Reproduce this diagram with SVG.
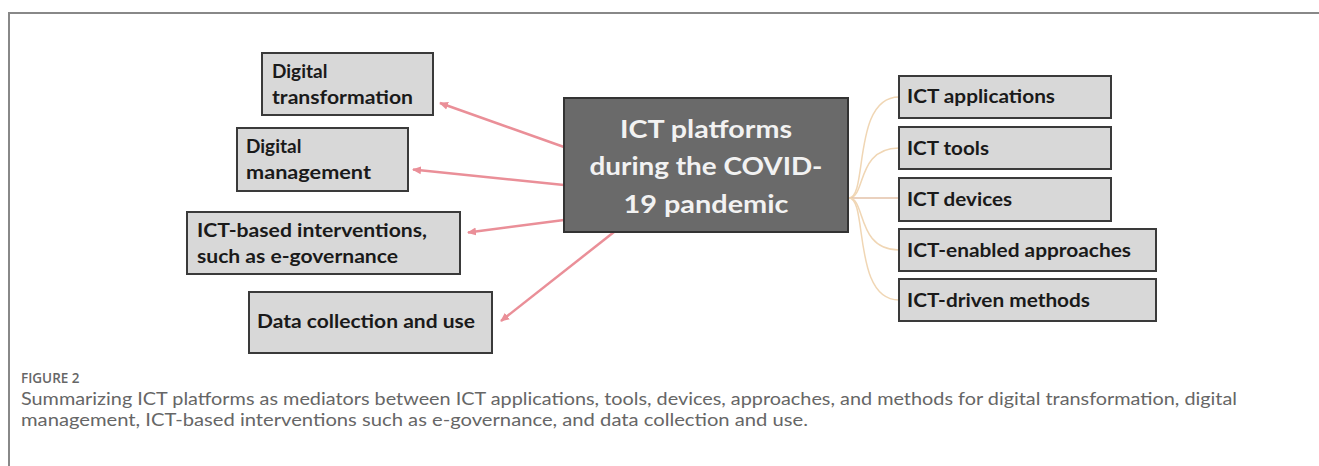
<svg xmlns="http://www.w3.org/2000/svg" width="1319" height="466" viewBox="0 0 1319 466">
<defs>
<style>
.box{fill:#d8d8d8;stroke:#3a3a3a;stroke-width:2}
.hub{fill:#6a6a6a;stroke:#333;stroke-width:2}
.t{font-family:Lato,"Carlito","Liberation Sans",sans-serif;font-weight:700;fill:#1a1a1a;font-size:19px}
.ht{font-family:Lato,"Carlito","Liberation Sans",sans-serif;font-weight:700;fill:#f2f2f2;font-size:24.5px;text-anchor:middle}
.arr{stroke:#ea8f98;stroke-width:2.5;fill:none;marker-end:url(#ah)}
.cur{stroke:#f0d6b4;stroke-width:1.5;fill:none}
.cap{font-family:Lato,"Open Sans","Liberation Sans",sans-serif;fill:#666;font-size:16.5px;font-weight:400}
.fig{font-family:"Open Sans",Lato,"Liberation Sans",sans-serif;fill:#666;font-size:13.5px;font-weight:600}
</style>
<marker id="ah" markerWidth="10" markerHeight="10" refX="8" refY="5" orient="auto" markerUnits="userSpaceOnUse">
<path d="M0,1 L9,5 L0,9 Z" fill="#ea8f98"/>
</marker>
</defs>
<rect width="1319" height="466" fill="#fff"/>
<path d="M9,467 V13 H1320" fill="none" stroke="#888" stroke-width="2"/>

<g id="connectors">
<line class="arr" x1="564" y1="147" x2="440" y2="103"/>
<line class="arr" x1="564" y1="185" x2="413" y2="169.5"/>
<line class="arr" x1="564" y1="220" x2="468" y2="232.5"/>
<line class="arr" x1="614" y1="232" x2="501" y2="321"/>
<path class="cur" d="M849,198 C868,198 852,97 899,97"/>
<path class="cur" d="M849,198 C866,198 856,148 899,148"/>
<path d="M849,198 H899" stroke="#e3c2a8" stroke-width="1.5"/>
<path class="cur" d="M849,198 C866,198 856,250 899,250"/>
<path class="cur" d="M849,198 C868,198 852,300 899,300"/>
</g>

<g id="hub">
<rect class="hub" x="564" y="98" width="284" height="134"/>
<text class="ht" x="706" y="138" textLength="172" lengthAdjust="spacingAndGlyphs">ICT platforms</text>
<text class="ht" x="706" y="175" textLength="233" lengthAdjust="spacingAndGlyphs">during the COVID-</text>
<text class="ht" x="706" y="213" textLength="165" lengthAdjust="spacingAndGlyphs">19 pandemic</text>
</g>

<g id="n-transformation">
<rect class="box" x="262" y="53" width="171" height="62"/>
<text class="t" x="272" y="78">Digital</text>
<text class="t" x="272" y="104" textLength="141" lengthAdjust="spacingAndGlyphs">transformation</text>
</g>
<g id="n-management">
<rect class="box" x="237" y="128" width="171" height="63"/>
<text class="t" x="246" y="153">Digital</text>
<text class="t" x="246" y="179" textLength="125" lengthAdjust="spacingAndGlyphs">management</text>
</g>
<g id="n-interventions">
<rect class="box" x="187" y="212" width="273" height="62"/>
<text class="t" x="197" y="237" textLength="230" lengthAdjust="spacingAndGlyphs">ICT-based interventions,</text>
<text class="t" x="197" y="263" textLength="201" lengthAdjust="spacingAndGlyphs">such as e-governance</text>
</g>
<g id="n-data">
<rect class="box" x="249" y="292" width="243" height="61"/>
<text class="t" x="257" y="328" textLength="218" lengthAdjust="spacingAndGlyphs">Data collection and use</text>
</g>

<g id="n-applications">
<rect class="box" x="899" y="76" width="212" height="42"/>
<text class="t" x="907" y="103" textLength="148" lengthAdjust="spacingAndGlyphs">ICT applications</text>
</g>
<g id="n-tools">
<rect class="box" x="899" y="127" width="212" height="42"/>
<text class="t" x="907" y="155" textLength="82" lengthAdjust="spacingAndGlyphs">ICT tools</text>
</g>
<g id="n-devices">
<rect class="box" x="899" y="178" width="212" height="43"/>
<text class="t" x="907" y="206" textLength="105" lengthAdjust="spacingAndGlyphs">ICT devices</text>
</g>
<g id="n-approaches">
<rect class="box" x="899" y="229" width="257" height="42"/>
<text class="t" x="907" y="257" textLength="224" lengthAdjust="spacingAndGlyphs">ICT-enabled approaches</text>
</g>
<g id="n-methods">
<rect class="box" x="899" y="279" width="257" height="42"/>
<text class="t" x="907" y="307" textLength="183" lengthAdjust="spacingAndGlyphs">ICT-driven methods</text>
</g>

<g id="caption">
<text class="fig" x="21" y="383">FIGURE 2</text>
<text class="cap" x="21" y="405" textLength="1216" lengthAdjust="spacingAndGlyphs">Summarizing ICT platforms as mediators between ICT applications, tools, devices, approaches, and methods for digital transformation, digital</text>
<text class="cap" x="21" y="426" textLength="787" lengthAdjust="spacingAndGlyphs">management, ICT-based interventions such as e-governance, and data collection and use.</text>
</g>
</svg>
